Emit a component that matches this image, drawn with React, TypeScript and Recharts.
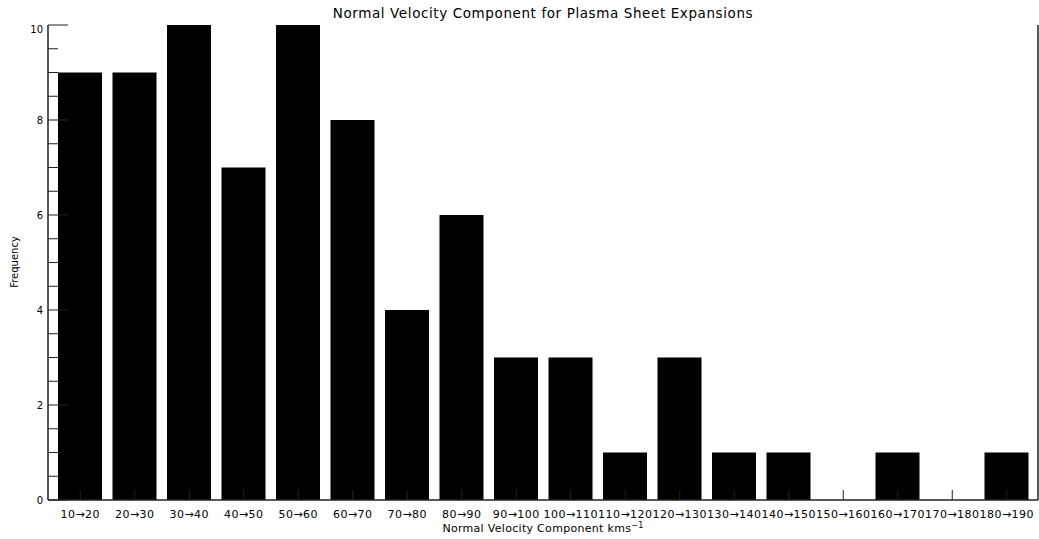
import React from "react";
import { BarChart, Bar, XAxis, YAxis } from "recharts";

const categories = [
  "10→20", "20→30", "30→40", "40→50", "50→60", "60→70", "70→80", "80→90", "90→100",
  "100→110", "110→120", "120→130", "130→140", "140→150", "150→160", "160→170", "170→180", "180→190",
];
const frequencies = [9, 9, 10, 7, 10, 8, 4, 6, 3, 3, 1, 3, 1, 1, 0, 1, 0, 1];
const yTicks = [0, 0.5, 1, 1.5, 2, 2.5, 3, 3.5, 4, 4.5, 5, 5.5, 6, 6.5, 7, 7.5, 8, 8.5, 9, 9.5, 10];
const yMajorStep = 2;

const data = categories.map((label, i) => ({ label, value: frequencies[i] }));

const INK = "#222";
const FONT = "DejaVu Sans";

const LeftTick = (p: any) => {
  const { x, y, payload } = p;
  const v = payload.value as number;
  const major = v % yMajorStep === 0;
  return (
    <g>
      <line x1={x} x2={x + (major ? 20 : 10)} y1={y} y2={y} stroke={INK} strokeWidth={1} />
      {major && (
        <text
          x={x - 5}
          y={y + (v === 10 ? 4 : 0)}
          textAnchor="end"
          dominantBaseline="central"
          fontSize={10}
          fontFamily={FONT}
          fill="#000"
        >
          {v}
        </text>
      )}
    </g>
  );
};

const RightTick = (p: any) => {
  const { x, y, payload } = p;
  const v = payload.value as number;
  const major = v % yMajorStep === 0;
  return <line x1={x} x2={x - (major ? 20 : 10)} y1={y} y2={y} stroke={INK} strokeWidth={1} />;
};

const BottomTick = (p: any) => {
  const { x, y, payload } = p;
  return (
    <g>
      <line x1={x} x2={x} y1={y} y2={y - 10} stroke={INK} strokeWidth={1} />
      <text
        x={x}
        y={y + 18}
        textAnchor="middle"
        fontSize={11}
        letterSpacing={0.5}
        fontFamily={FONT}
        fill="#000"
      >
        {payload.value}
      </text>
    </g>
  );
};

export default function App() {
  return (
    <div style={{ position: "absolute", left: 0, top: 0, background: "#fff" }}>
      <BarChart
        width={1039}
        height={539}
        data={data}
        margin={{ top: 25, right: 0, bottom: 0, left: 0 }}
        barSize={44}
      >
        <text
          x={543}
          y={18}
          textAnchor="middle"
          fontSize={13.5}
          letterSpacing={0.6}
          fontFamily={FONT}
          fill="#000"
        >
          Normal Velocity Component for Plasma Sheet Expansions
        </text>
        <text
          x={543}
          y={532}
          textAnchor="middle"
          fontSize={11}
          letterSpacing={0.3}
          fontFamily={FONT}
          fill="#000"
        >
          Normal Velocity Component kms<tspan dy={-4} fontSize={8}>−1</tspan>
        </text>
        <text
          x={14}
          y={262}
          transform="rotate(-90 14 262)"
          textAnchor="middle"
          dominantBaseline="central"
          fontSize={10}
          fontFamily={FONT}
          fill="#000"
        >
          Frequency
        </text>
        <XAxis
          dataKey="label"
          height={39}
          interval={0}
          padding={{ left: 5, right: 4 }}
          tickSize={0}
          tickMargin={0}
          tickLine={false}
          tick={<BottomTick />}
          axisLine={{ stroke: INK, strokeWidth: 1.5 }}
        />
        <XAxis
          xAxisId="top"
          dataKey="label"
          orientation="top"
          height={0}
          padding={{ left: 5, right: 4 }}
          tick={false}
          tickLine={false}
          axisLine={{ stroke: INK, strokeWidth: 1.5 }}
        />
        <YAxis
          yAxisId="left"
          width={48}
          domain={[0, 10]}
          ticks={yTicks}
          interval={0}
          tickSize={0}
          tickMargin={0}
          tickLine={false}
          tick={<LeftTick />}
          axisLine={{ stroke: INK, strokeWidth: 1.5 }}
        />
        <YAxis
          yAxisId="right"
          orientation="right"
          width={1}
          domain={[0, 10]}
          ticks={yTicks}
          interval={0}
          tickSize={0}
          tickMargin={0}
          tickLine={false}
          tick={<RightTick />}
          axisLine={{ stroke: INK, strokeWidth: 1.5 }}
        />
        <Bar dataKey="value" yAxisId="left" fill="#000" isAnimationActive={false} />
      </BarChart>
    </div>
  );
}
